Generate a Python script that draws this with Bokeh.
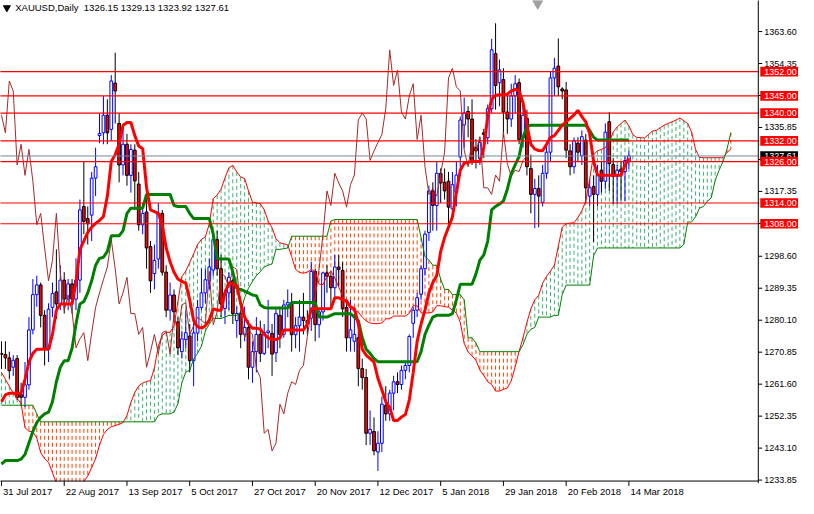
import numpy as np
from bokeh.plotting import figure
from bokeh.models import Range1d, ColumnDataSource
from bokeh.core.properties import value
from bokeh.embed import file_html
from bokeh.resources import INLINE

# ------------------------------------------------------------------ data
title_text = "XAUUSD,Daily\u00a0\u00a01326.15 1329.13 1323.92 1327.61"

date_labels = ["31 Jul 2017", "22 Aug 2017", "13 Sep 2017", "5 Oct 2017", "27 Oct 2017",
               "20 Nov 2017", "12 Dec 2017", "5 Jan 2018", "29 Jan 2018", "20 Feb 2018",
               "14 Mar 2018"]
date_label_bars = [0, 16, 32, 48, 64, 80, 96, 112, 128, 144, 160]

price_ticks = [1363.60, 1354.35, 1345.10, 1335.85, 1326.60, 1317.35, 1308.10, 1298.60,
               1289.35, 1280.10, 1270.85, 1261.60, 1252.35, 1243.10, 1233.85]

levels = [1352.0, 1345.0, 1340.0, 1332.0, 1326.0, 1314.0, 1308.0]
last_price = 1327.61

opens = [
    1270.5, 1270.2, 1269.2, 1266.5, 1269.0, 1258.6, 1257.8, 1261.4, 1277.3, 1287.5,
    1290.3, 1281.5, 1271.7, 1283.8, 1288.3, 1284.8, 1291.7, 1286.2, 1290.6, 1286.2,
    1291.7, 1313.0, 1309.5, 1310.5, 1321.2, 1333.5, 1334.3, 1339.4, 1335.3, 1348.7,
    1337.0, 1325.0, 1331.0, 1322.0, 1329.3, 1319.5, 1307.7, 1311.4, 1301.4, 1293.6,
    1297.8, 1311.0, 1294.0, 1283.0, 1287.4, 1279.6, 1271.0, 1274.5, 1275.5, 1268.4,
    1276.4, 1283.8, 1288.0, 1291.5, 1294.6, 1303.4, 1295.0, 1283.5, 1288.0, 1291.5,
    1280.0, 1282.0, 1276.0, 1278.0, 1266.5, 1271.0, 1276.0, 1270.5, 1276.5, 1276.3,
    1270.7, 1281.5, 1276.0, 1284.5, 1285.2, 1275.9, 1278.5, 1281.0, 1280.0, 1280.7,
    1294.2, 1278.8, 1282.5, 1293.8, 1292.8, 1289.5, 1295.5, 1294.5, 1283.8, 1275.0,
    1274.0, 1275.0, 1266.1, 1263.5, 1247.4, 1247.9, 1242.0, 1244.5, 1255.5, 1253.0,
    1259.0, 1262.3, 1261.5, 1265.6, 1267.0, 1279.2, 1283.0, 1287.6, 1295.0, 1305.5,
    1317.5, 1313.3, 1322.6, 1320.0, 1320.3, 1312.3, 1317.0, 1327.3, 1336.6, 1340.5,
    1338.3, 1330.0, 1326.8, 1334.3, 1332.9, 1341.3, 1357.2, 1348.8, 1349.7, 1340.3,
    1338.3, 1345.0, 1348.8, 1332.9, 1338.5, 1324.0, 1316.5, 1318.2, 1314.2, 1322.6,
    1328.7, 1350.2, 1353.6, 1347.0, 1346.7, 1329.1, 1324.5, 1331.3, 1327.7, 1332.2,
    1316.0, 1318.8, 1316.5, 1323.5, 1320.3, 1337.5, 1325.1, 1321.7, 1323.8, 1323.1,
    1326.15]

highs = [
    1274.0, 1274.0, 1271.0, 1270.0, 1270.0, 1262.0, 1268.0, 1281.0, 1292.0, 1293.0,
    1291.0, 1283.0, 1285.0, 1291.0, 1300.6, 1296.0, 1294.0, 1292.0, 1292.0, 1298.0,
    1315.0, 1326.0, 1313.0, 1323.0, 1330.0, 1339.9, 1345.0, 1344.0, 1351.0, 1357.5,
    1340.0, 1336.0, 1334.0, 1331.0, 1331.0, 1323.0, 1314.0, 1317.0, 1303.0, 1302.0,
    1314.0, 1312.0, 1296.0, 1291.0, 1289.0, 1281.0, 1277.0, 1283.0, 1279.0, 1281.0,
    1286.0, 1295.0, 1295.0, 1298.0, 1306.0, 1306.0, 1299.0, 1289.0, 1294.0, 1292.0,
    1284.0, 1283.0, 1284.0, 1280.0, 1274.0, 1281.0, 1280.0, 1279.0, 1286.0, 1279.0,
    1284.0, 1284.0, 1286.0, 1289.0, 1288.0, 1281.0, 1286.0, 1288.0, 1283.0, 1297.0,
    1295.0, 1283.0, 1294.0, 1296.0, 1294.0, 1299.0, 1299.0, 1297.0, 1285.0, 1286.0,
    1282.0, 1277.0, 1269.0, 1266.0, 1254.0, 1252.0, 1248.0, 1258.0, 1261.0, 1260.0,
    1264.0, 1265.0, 1267.0, 1268.0, 1276.0, 1284.0, 1288.0, 1296.0, 1306.0, 1319.0,
    1320.0, 1326.0, 1324.0, 1324.0, 1323.0, 1323.0, 1326.0, 1339.0, 1344.5, 1342.0,
    1344.0, 1332.5, 1333.0, 1335.5, 1342.5, 1361.5, 1366.0, 1355.5, 1353.0, 1345.0,
    1348.5, 1351.0, 1350.0, 1343.0, 1341.0, 1328.0, 1321.0, 1322.0, 1325.0, 1331.0,
    1352.0, 1356.0, 1361.6, 1347.5, 1349.0, 1331.0, 1333.0, 1333.0, 1335.0, 1334.0,
    1321.0, 1322.0, 1325.0, 1326.0, 1337.0, 1340.3, 1327.0, 1325.0, 1326.0, 1327.5,
    1329.13]

lows = [
    1266.0, 1266.0, 1263.0, 1264.0, 1257.0, 1255.5, 1255.0, 1260.0, 1276.0, 1284.0,
    1278.0, 1267.0, 1268.0, 1281.0, 1280.5, 1283.0, 1282.0, 1283.0, 1282.0, 1283.0,
    1288.0, 1305.0, 1302.0, 1303.0, 1316.0, 1331.3, 1331.0, 1331.0, 1332.0, 1337.0,
    1320.0, 1322.0, 1319.0, 1317.0, 1312.0, 1306.0, 1305.0, 1295.0, 1288.0, 1289.0,
    1295.0, 1293.0, 1281.0, 1280.0, 1279.5, 1270.0, 1269.0, 1272.0, 1265.0, 1261.0,
    1274.0, 1283.0, 1285.0, 1289.0, 1293.0, 1293.0, 1281.0, 1279.0, 1283.0, 1279.0,
    1275.0, 1272.0, 1274.0, 1263.0, 1262.0, 1265.0, 1268.0, 1270.0, 1272.0, 1264.0,
    1268.0, 1272.0, 1275.0, 1281.0, 1271.0, 1272.0, 1271.0, 1276.0, 1276.0, 1277.0,
    1274.0, 1275.0, 1280.0, 1288.0, 1284.0, 1286.0, 1290.0, 1281.0, 1271.0, 1271.0,
    1271.0, 1261.0, 1260.0, 1244.0, 1244.0, 1241.0, 1236.5, 1242.0, 1251.0, 1251.0,
    1254.0, 1259.0, 1260.0, 1263.0, 1265.0, 1275.0, 1281.0, 1286.0, 1293.0, 1303.0,
    1306.0, 1306.0, 1314.0, 1315.0, 1307.0, 1310.0, 1313.0, 1322.0, 1330.0, 1333.0,
    1325.0, 1324.0, 1325.0, 1327.0, 1331.0, 1340.0, 1341.0, 1342.0, 1333.0, 1334.0,
    1336.0, 1340.0, 1331.0, 1330.0, 1322.0, 1311.0, 1306.7, 1307.0, 1313.0, 1321.0,
    1326.0, 1345.0, 1345.0, 1344.0, 1327.0, 1322.0, 1322.5, 1326.0, 1325.0, 1314.0,
    1313.0, 1302.7, 1313.0, 1317.0, 1318.0, 1317.5, 1313.7, 1313.7, 1314.7, 1314.5,
    1323.92]

closes = [
    1270.2, 1269.2, 1265.5, 1268.5, 1257.7, 1257.8, 1261.4, 1277.3, 1287.5, 1290.3,
    1281.5, 1271.7, 1283.3, 1287.8, 1284.8, 1291.7, 1286.2, 1290.6, 1286.2, 1291.7,
    1312.0, 1308.7, 1308.0, 1321.2, 1324.5, 1334.1, 1339.4, 1334.3, 1349.3, 1346.4,
    1325.0, 1331.0, 1322.0, 1329.5, 1320.4, 1307.7, 1311.0, 1301.0, 1291.5, 1297.4,
    1311.0, 1294.0, 1283.0, 1287.4, 1282.5, 1272.1, 1274.7, 1276.5, 1268.4, 1276.4,
    1283.8, 1288.0, 1291.8, 1295.5, 1303.4, 1295.0, 1284.8, 1288.0, 1292.5, 1282.0,
    1282.0, 1276.0, 1278.0, 1266.5, 1271.0, 1276.0, 1270.5, 1276.5, 1277.0, 1270.3,
    1282.0, 1276.0, 1284.5, 1285.2, 1275.9, 1278.5, 1281.0, 1280.0, 1279.2, 1294.2,
    1278.8, 1282.5, 1293.8, 1292.8, 1289.5, 1295.5, 1294.8, 1283.4, 1275.0, 1277.3,
    1276.0, 1266.1, 1263.5, 1247.4, 1248.5, 1242.3, 1244.5, 1255.8, 1253.0, 1259.0,
    1262.3, 1261.5, 1265.6, 1267.0, 1275.4, 1283.0, 1286.6, 1295.0, 1305.0, 1317.5,
    1313.3, 1322.6, 1319.8, 1317.5, 1312.8, 1319.3, 1322.1, 1338.0, 1340.0, 1338.3,
    1326.3, 1329.1, 1331.5, 1333.8, 1341.3, 1358.3, 1348.0, 1352.5, 1340.3, 1338.3,
    1345.0, 1348.5, 1332.4, 1339.4, 1324.5, 1316.5, 1318.2, 1316.0, 1322.6, 1328.7,
    1350.2, 1353.0, 1347.6, 1346.4, 1329.3, 1324.5, 1332.0, 1328.7, 1333.2, 1318.4,
    1318.4, 1316.5, 1322.1, 1320.3, 1334.5, 1325.4, 1321.7, 1323.5, 1323.1, 1326.3,
    1327.61]

tenkan = [
    1256.5, 1258.5, 1259.0, 1259.0, 1259.0, 1259.0, 1263.0, 1268.0, 1270.5, 1271.7,
    1271.7, 1271.7, 1271.7, 1276.0, 1283.0, 1284.8, 1284.8, 1284.8, 1284.8, 1291.0,
    1300.5, 1303.0, 1305.5, 1307.0, 1308.1, 1309.0, 1310.1, 1316.0, 1326.0, 1328.0,
    1331.0, 1336.5, 1337.3, 1337.3, 1333.5, 1330.5, 1329.7, 1318.5, 1312.0, 1311.5,
    1311.0, 1307.7, 1301.0, 1297.0, 1294.0, 1292.0, 1291.3, 1290.8, 1286.0, 1280.0,
    1278.2, 1277.8, 1278.5, 1280.1, 1283.4, 1283.0, 1283.0, 1288.0, 1291.0, 1290.5,
    1290.0, 1285.0, 1281.0, 1279.0, 1277.8, 1277.8, 1277.5, 1276.0, 1275.0, 1274.5,
    1274.5, 1275.0, 1277.3, 1277.3, 1277.3, 1277.3, 1277.3, 1277.3, 1279.0, 1283.4,
    1283.4, 1283.4, 1283.4, 1283.4, 1283.4, 1286.6, 1286.6, 1286.0, 1285.7, 1284.0,
    1283.4, 1279.0, 1271.7, 1270.0, 1269.0, 1268.0, 1263.3, 1260.0, 1256.5, 1254.9,
    1251.1, 1251.1, 1252.1, 1252.8, 1257.0, 1265.0, 1274.0, 1279.0, 1283.0, 1288.0,
    1291.0, 1293.0, 1300.0, 1304.0, 1307.0, 1310.0, 1317.0, 1323.5, 1325.5, 1325.8,
    1326.0, 1326.0, 1326.0, 1330.0, 1339.0, 1344.0, 1345.2, 1345.3, 1345.4, 1345.5,
    1346.4, 1346.9, 1346.5, 1343.0, 1336.5, 1331.0, 1329.6, 1329.2, 1329.1, 1331.0,
    1333.0, 1333.5, 1335.0, 1336.5, 1337.5, 1338.5, 1339.5, 1340.8, 1339.0, 1337.5,
    1334.0, 1326.0, 1322.1, 1322.0, 1322.0, 1322.0, 1322.0, 1322.0, 1322.0, 1325.0,
    1327.0]

kijun = [
    1238.5, 1239.5, 1239.5, 1239.5, 1239.5, 1239.9, 1241.3, 1244.6, 1247.9, 1250.5,
    1252.0, 1253.0, 1253.5, 1256.5, 1262.3, 1266.5, 1268.4, 1268.4, 1272.0, 1279.0,
    1284.8, 1285.5, 1288.0, 1291.5, 1296.0, 1298.0, 1298.3, 1300.0, 1304.5, 1304.5,
    1304.5, 1306.0, 1311.0, 1312.5, 1312.5, 1312.5, 1312.5, 1316.5, 1316.5, 1316.5,
    1316.5, 1316.5, 1316.5, 1316.5, 1313.3, 1313.0, 1313.0, 1313.0, 1311.0, 1309.5,
    1309.5, 1309.5, 1309.5, 1309.5, 1305.0, 1298.0, 1297.8, 1297.8, 1297.8, 1294.0,
    1289.3, 1289.0, 1288.5, 1288.0, 1287.4, 1287.2, 1284.5, 1283.8, 1283.6, 1283.6,
    1283.6, 1283.6, 1283.6, 1283.6, 1285.2, 1285.2, 1285.2, 1285.2, 1285.2, 1285.2,
    1285.2, 1281.0, 1281.0, 1281.0, 1281.5, 1282.0, 1282.0, 1282.0, 1282.0, 1282.0,
    1281.0, 1280.0, 1275.0, 1271.7, 1270.5, 1269.0, 1268.1, 1268.1, 1268.1, 1268.1,
    1268.1, 1268.1, 1268.1, 1268.1, 1268.1, 1268.1, 1268.1, 1271.0, 1276.0, 1278.7,
    1281.0, 1281.5, 1281.5, 1281.5, 1281.5, 1282.0, 1286.0, 1290.5, 1290.5, 1290.5,
    1290.5, 1293.5, 1297.5, 1299.0, 1303.0, 1312.0, 1313.0, 1313.7, 1314.6, 1318.0,
    1322.5, 1325.0, 1327.5, 1333.0, 1336.0, 1336.5, 1336.5, 1336.5, 1336.5, 1336.5,
    1336.5, 1336.5, 1336.5, 1336.5, 1336.5, 1336.5, 1336.5, 1336.5, 1336.5, 1336.5,
    1335.0, 1333.0, 1332.2, 1332.2, 1332.2, 1332.2, 1332.2, 1332.2, 1332.2, 1332.2,
    1332.2]

span_a = [
    1265.0, 1263.0, 1261.0, 1259.0, 1257.5, 1256.0, 1249.0, 1248.0, 1247.8, 1246.0,
    1241.8, 1240.0, 1239.0, 1236.0, 1233.0, 1232.0, 1232.0, 1232.0, 1232.0, 1232.0,
    1232.5, 1233.5, 1235.0, 1237.5, 1240.0, 1244.0, 1247.0, 1248.5, 1249.3, 1249.6,
    1250.0, 1250.5, 1252.5, 1256.3, 1259.2, 1261.1, 1261.9, 1262.4, 1262.6, 1266.3,
    1272.7, 1275.7, 1276.6, 1276.6, 1278.4, 1285.5, 1292.7, 1294.3, 1296.8, 1299.3,
    1302.0, 1303.5, 1304.2, 1308.0, 1315.3, 1316.3, 1318.0, 1321.3, 1324.2, 1324.9,
    1323.0, 1321.5, 1321.1, 1317.5, 1314.3, 1314.0, 1313.8, 1312.1, 1308.8, 1306.8,
    1303.7, 1302.5, 1302.2, 1301.9, 1298.5, 1294.8, 1293.9, 1293.7, 1294.0, 1294.8,
    1294.2, 1290.5, 1290.4, 1292.9, 1294.4, 1292.3, 1289.7, 1287.0, 1284.8, 1283.5,
    1282.6, 1282.5, 1281.0, 1279.9, 1279.3, 1279.1, 1279.1, 1279.3, 1280.5, 1280.5,
    1281.3, 1281.3, 1281.3, 1281.3, 1282.1, 1284.3, 1284.3, 1282.2, 1282.2, 1282.2,
    1282.5, 1284.3, 1284.3, 1284.0, 1283.9, 1283.0, 1282.2, 1279.5, 1273.4, 1270.9,
    1269.8, 1268.5, 1265.7, 1264.1, 1262.3, 1261.5, 1259.6, 1259.6, 1260.1, 1260.5,
    1262.6, 1266.6, 1271.1, 1275.0, 1279.5, 1283.4, 1286.0, 1287.3, 1290.8, 1292.8,
    1294.3, 1296.0, 1301.5, 1307.0, 1308.0, 1308.2, 1308.3, 1309.8, 1311.8, 1314.5,
    1321.0, 1328.0, 1329.1, 1329.5, 1330.0, 1331.8, 1334.5, 1336.0, 1337.0, 1338.0,
    1336.3, 1333.8, 1333.0, 1332.9, 1332.8, 1333.8, 1334.8, 1335.0, 1335.8, 1336.5,
    1337.0, 1337.5, 1338.0, 1338.6, 1337.8, 1337.0, 1334.5, 1329.5, 1327.2, 1327.1,
    1327.1, 1327.1, 1327.1, 1327.1, 1327.1, 1328.6, 1329.6]

span_b = [
    1255.5, 1255.5, 1255.5, 1255.5, 1255.5, 1255.5, 1255.5, 1255.5, 1255.5, 1253.0,
    1250.7, 1250.7, 1250.7, 1250.7, 1250.7, 1250.7, 1250.7, 1250.7, 1250.7, 1250.7,
    1250.7, 1250.7, 1250.7, 1250.7, 1250.7, 1250.7, 1250.7, 1250.7, 1250.7, 1250.7,
    1250.7, 1250.7, 1250.7, 1250.7, 1250.7, 1250.7, 1250.7, 1250.7, 1250.7, 1250.7,
    1252.6, 1253.0, 1253.0, 1253.0, 1253.5, 1256.0, 1262.0, 1265.1, 1265.6, 1268.9,
    1270.5, 1272.6, 1277.0, 1279.0, 1280.6, 1280.6, 1280.6, 1281.0, 1281.5, 1281.5,
    1281.5, 1282.5, 1286.6, 1289.4, 1291.3, 1293.0, 1294.1, 1295.5, 1296.0, 1296.4,
    1300.6, 1300.6, 1300.8, 1301.0, 1304.4, 1304.4, 1304.4, 1304.4, 1304.4, 1304.4,
    1304.4, 1304.4, 1304.4, 1304.4, 1308.75, 1309.25, 1309.25, 1309.25, 1309.25, 1309.25,
    1309.25, 1309.25, 1309.25, 1309.25, 1309.25, 1309.25, 1309.25, 1309.25, 1309.25, 1309.25,
    1309.25, 1309.25, 1309.25, 1309.25, 1309.25, 1309.25, 1309.25, 1304.0, 1298.5, 1297.5,
    1296.0, 1296.0, 1292.0, 1289.0, 1289.0, 1287.5, 1287.5, 1287.5, 1286.0, 1275.0,
    1275.0, 1273.5, 1271.0, 1271.0, 1271.0, 1271.0, 1271.0, 1271.0, 1271.0, 1271.0,
    1271.0, 1271.0, 1271.0, 1273.0, 1276.0, 1277.5, 1278.0, 1281.0, 1281.0, 1281.0,
    1281.0, 1281.5, 1281.5, 1287.5, 1290.25, 1290.25, 1290.25, 1290.25, 1290.25, 1290.25,
    1290.25, 1298.75, 1301.0, 1301.0, 1301.0, 1301.0, 1301.0, 1301.0, 1301.0, 1301.0,
    1301.0, 1301.0, 1301.0, 1301.0, 1301.0, 1301.0, 1301.0, 1301.0, 1301.0, 1301.0,
    1301.0, 1301.0, 1301.0, 1301.0, 1302.0, 1308.5, 1308.5, 1310.0, 1312.5, 1313.0,
    1314.5, 1315.5, 1320.5, 1323.5, 1326.0, 1329.5, 1334.35]

CHIKOU_SHIFT = 26

# ------------------------------------------------------------------ layout helpers
# reference picture: 4 px per daily bar, 3.568 px per USD
def bx(px):
    return (px - 1.0) / 4.0

def py(px):
    return 1233.85 + (495.0 - px) / 3.568

FONT = "Liberation Sans"
FS_AXIS = "9px"
FS_TEXT = "9.5px"

p = figure(width=798, height=498, title=None,
           x_range=Range1d(bx(0), bx(814)), y_range=Range1d(py(514), py(0)),
           output_backend="svg", toolbar_location=None,
           x_axis_location=None, y_axis_location=None, min_border=0,
           background_fill_color="white", border_fill_color="white")
p.outline_line_color = None
p.xgrid.visible = False
p.ygrid.visible = False

# ------------------------------------------------------------------ cloud hatch
a = np.array(span_a)
b = np.array(span_b)
n_cloud = min(len(a), len(b))
a = a[:n_cloud]
b = b[:n_cloud]
ci = np.arange(n_cloud)
hatch = ColumnDataSource(dict(
    x=ci.tolist(),
    top=np.maximum(a, b).tolist(),
    bot=np.minimum(a, b).tolist(),
    col=["#3CB371" if av >= bv else "#FF4500" for av, bv in zip(a, b)],
))
p.segment(x0="x", y0="top", x1="x", y1="bot", source=hatch, line_color="col",
          line_width=1, line_dash="4 3")

# ------------------------------------------------------------------ candles
o = np.array(opens); h = np.array(highs); l = np.array(lows); c = np.array(closes)
idx = np.arange(len(o))
bull = c > o
candles = ColumnDataSource(dict(
    x=idx.tolist(), o=o.tolist(), h=h.tolist(), l=l.tolist(), c=c.tolist(),
    top=np.maximum(o, c).tolist(), bot=np.minimum(o, c).tolist(),
    wick=["#0000FF" if u else "#000000" for u in bull],
    fill=["#FFFFFF" if u else "#FF0000" for u in bull],
    edge=["#0000FF" if u else "#000000" for u in bull],
))
p.segment(x0="x", y0="l", x1="x", y1="h", source=candles, line_color="wick", line_width=1)
p.vbar(x="x", width=0.7, top="top", bottom="bot", source=candles,
       fill_color="fill", line_color="edge", line_width=1)

# ------------------------------------------------------------------ ichimoku lines
p.line(ci, a, line_color="#FF0000", line_width=1)
p.line(ci, b, line_color="#008000", line_width=1)
p.line(idx[CHIKOU_SHIFT:] - CHIKOU_SHIFT, c[CHIKOU_SHIFT:], line_color="#A52A2A", line_width=1)
p.line(np.arange(len(kijun)), kijun, line_color="#008000", line_width=3)
p.line(np.arange(len(tenkan)), tenkan, line_color="#FF0000", line_width=3)

# ------------------------------------------------------------------ horizontal lines
x_left, x_axis = bx(-2), bx(773)
p.segment(x0=[x_left], y0=[last_price], x1=[x_axis], y1=[last_price],
          line_color="#778899", line_width=1)
p.segment(x0=[x_left] * len(levels), y0=levels, x1=[x_axis] * len(levels), y1=levels,
          line_color="#FF0000", line_width=1.2)

# ------------------------------------------------------------------ masks outside chart area
p.quad(left=[bx(773.5)], right=[bx(830)], bottom=[py(530)], top=[py(-10)],
       fill_color="white", line_color=None)
p.quad(left=[bx(-10)], right=[bx(830)], bottom=[py(530)], top=[py(496.5)],
       fill_color="white", line_color=None)

# ------------------------------------------------------------------ axes
p.segment(x0=[bx(773)], y0=[py(-2)], x1=[bx(773)], y1=[py(498)], line_color="black", line_width=1)
p.segment(x0=[bx(-2)], y0=[py(496)], x1=[bx(773)], y1=[py(496)], line_color="black", line_width=1)

p.segment(x0=[bx(773)] * len(price_ticks), y0=price_ticks,
          x1=[bx(777)] * len(price_ticks), y1=price_ticks, line_color="black", line_width=1)
p.text(x=[bx(779)] * len(price_ticks), y=price_ticks,
       text=["%.2f" % v for v in price_ticks],
       text_font=value(FONT), text_font_size=FS_AXIS, text_align="left",
       text_baseline="middle", text_color="black")

tick_x = [float(v) for v in date_label_bars]
p.segment(x0=tick_x, y0=[py(496)] * len(tick_x), x1=tick_x, y1=[py(501)] * len(tick_x),
          line_color="black", line_width=1)
p.text(x=[v + 0.4 for v in tick_x], y=[py(506.5)] * len(tick_x), text=date_labels,
       text_font=value(FONT), text_font_size=FS_TEXT, text_align="left",
       text_baseline="middle", text_color="black")

# price label boxes
box_h = 1.4
p.quad(left=[bx(775)], right=[bx(830)], bottom=[last_price - box_h], top=[last_price + box_h],
       fill_color="black", line_color=None)
p.text(x=[bx(779)], y=[last_price], text=["%.2f" % last_price],
       text_font=value(FONT), text_font_size=FS_AXIS, text_align="left",
       text_baseline="middle", text_color="white")
p.quad(left=[bx(775)] * len(levels), right=[bx(830)] * len(levels),
       bottom=[v - box_h for v in levels], top=[v + box_h for v in levels],
       fill_color="#FF0000", line_color=None)
p.text(x=[bx(779)] * len(levels), y=levels, text=["%.2f" % v for v in levels],
       text_font=value(FONT), text_font_size=FS_AXIS, text_align="left",
       text_baseline="middle", text_color="white")

# ------------------------------------------------------------------ header
p.scatter(x=[bx(6.5)], y=[py(7.5)], marker="inverted_triangle", size=7,
          fill_color="black", line_color="black")
p.text(x=[bx(15)], y=[py(7.5)], text=[title_text],
       text_font=value(FONT), text_font_size=FS_TEXT, text_align="left",
       text_baseline="middle", text_color="black")
p.scatter(x=[bx(548)], y=[py(3)], marker="inverted_triangle", size=10,
          fill_color="#A0A0A0", line_color="#A0A0A0")

open("out.html", "w").write(file_html(p, INLINE))
